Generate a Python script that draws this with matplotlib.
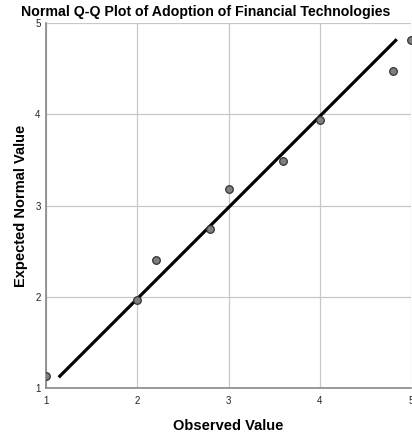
import numpy as np
import matplotlib
matplotlib.use("Agg")
import matplotlib.pyplot as plt

plt.rcParams['font.family'] = ['Liberation Sans', 'DejaVu Sans']

# observed vs expected normal values
observed = [1.0, 2.0, 2.2, 2.8, 3.0, 3.6, 4.0, 4.8, 5.0]
expected = [1.13, 1.97, 2.40, 2.74, 3.18, 3.49, 3.94, 4.48, 4.82]
line_x = [1.15, 4.83]
line_y = [1.13, 4.81]
ticks = [1, 2, 3, 4, 5]

fig = plt.figure(figsize=(4.12, 4.36), dpi=100)
ax = fig.add_axes([0.112, 0.110, 0.886, 0.837])

ax.grid(True, color='#c8c8c8', linewidth=0.9)
ax.set_axisbelow(True)
ax.plot(line_x, line_y, color='black', linewidth=2.3, zorder=3)
ax.scatter(observed, expected, s=30, facecolor='#7f7f7f', edgecolor='#333333',
           linewidth=0.9, zorder=4, clip_on=True)

ax.set_xlim(1, 5)
ax.set_ylim(1, 5)
ax.set_xticks(ticks)
ax.set_yticks(ticks)
ax.tick_params(length=0, labelsize=7, colors='#222222')
ax.tick_params(axis='x', pad=6)
ax.tick_params(axis='y', pad=4)

for s in ['top', 'right']:
    ax.spines[s].set_visible(False)
for s in ['left', 'bottom']:
    ax.spines[s].set_color('#888888')
    ax.spines[s].set_linewidth(1.2)

# title centred on the figure, not the axes
fig.text(0.5, 0.972, 'Normal Q-Q Plot of Adoption of Financial Technologies',
         ha='center', va='center', fontsize=10.2, fontweight='bold')
ax.set_xlabel('Observed Value', fontsize=10.5, fontweight='bold', labelpad=9)
ax.set_ylabel('Expected Normal Value', fontsize=10.5, fontweight='bold', labelpad=5)

fig.savefig('out.png', dpi=100)
